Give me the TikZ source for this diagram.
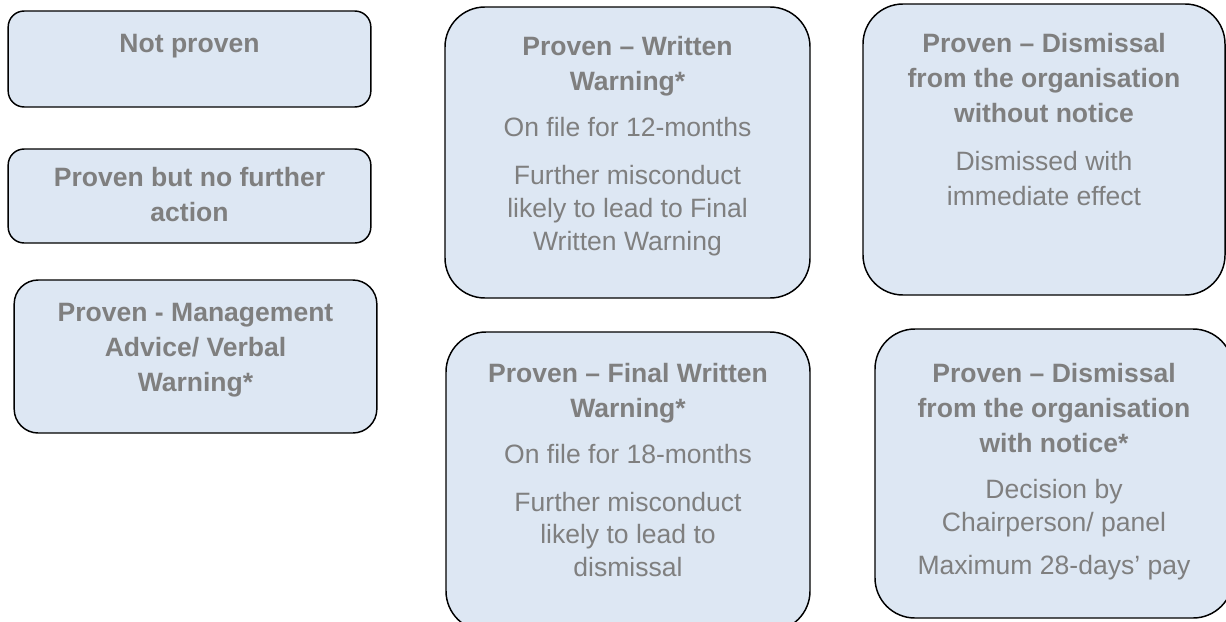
\documentclass[tikz,border=0pt]{standalone}
\usepackage{fontspec}
\setmainfont{Liberation Sans}
\usetikzlibrary{positioning}
\definecolor{boxfill}{HTML}{DDE7F3}
\definecolor{txtgray}{HTML}{7F7F7F}
\begin{document}
\begin{tikzpicture}[x=0.75pt,y=-0.75pt,
 box/.style={draw=black,line width=1.1pt,fill=boxfill,rectangle},
 txt/.style={inner sep=0pt,align=center,text=txtgray,font=\fontsize{19.9}{24.5}\selectfont}]
 \useasboundingbox (0,0) rectangle (1226,621);
 \clip (0,0) rectangle (1226,621);
 % left column
 \node[box,rounded corners=12pt,minimum width=272pt,minimum height=72pt] (notproven) at (189.5,59) {};
 \node[box,rounded corners=12pt,minimum width=272pt,minimum height=70.5pt] (nofurther) at (189.5,196) {};
 \node[box,rounded corners=18pt,minimum width=272pt,minimum height=114.75pt] (verbal) at (195.5,356.5) {};
 \node[txt,below=17.5pt of notproven.north] (notproventxt) {\textbf{Not proven}};
 \node[txt,below=14pt of nofurther.north] (nofurthertxt) {\textbf{Proven but no further}\\[1.8pt] \textbf{action}};
 \node[txt,below=17.5pt of verbal.north] (verbaltxt) {\textbf{Proven - Management}\\[1.8pt] \textbf{Advice/ Verbal}\\[1.8pt] \textbf{Warning*}};
 % middle column
 \node[box,rounded corners=30pt,minimum width=273.75pt,minimum height=218.25pt] (written) at (627.5,152.5) {};
 \node[box,rounded corners=30pt,minimum width=273pt,minimum height=224.25pt] (final) at (628,481.5) {};
 \node[txt,below=22pt of written.north] (writtentxt) {\textbf{Proven – Written}\\[1.8pt] \textbf{Warning*}\\[10pt]
  On file for 12-months\\[12pt] Further misconduct\\ likely to lead to Final\\ Written Warning};
 \node[txt,below=24pt of final.north] (finaltxt) {\textbf{Proven – Final Written}\\[1.8pt] \textbf{Warning*}\\[10pt]
  On file for 18-months\\[11pt] Further misconduct\\ likely to lead to\\ dismissal};
 % right column
 \node[box,rounded corners=30pt,minimum width=271.5pt,minimum height=218.25pt] (withoutnotice) at (1044,149.5) {};
 \node[box,rounded corners=30pt,minimum width=268.5pt,minimum height=216.75pt] (withnotice) at (1054,473.5) {};
 \node[txt,below=22pt of withoutnotice.north] (withoutnoticetxt) {\textbf{Proven – Dismissal}\\[1.8pt] \textbf{from the organisation}\\[1.8pt] \textbf{without notice}\\[11.5pt]
  Dismissed with\\[2pt] immediate effect};
 \node[txt,below=26pt of withnotice.north] (withnoticetxt) {\textbf{Proven – Dismissal}\\[1.8pt] \textbf{from the organisation}\\[1.8pt] \textbf{with notice*}\\[10pt]
  Decision by\\ Chairperson/ panel\\[8pt] Maximum 28-days’ pay};
\end{tikzpicture}
\end{document}
